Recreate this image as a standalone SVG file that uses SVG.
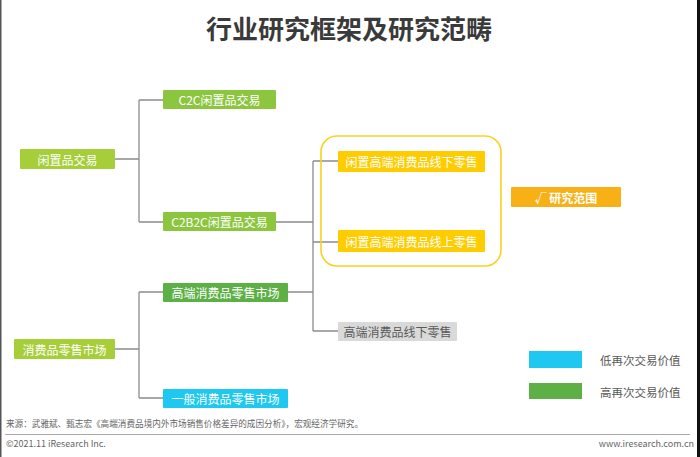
<svg xmlns="http://www.w3.org/2000/svg" width="700" height="457" viewBox="0 0 700 457">
<style>
.t{font-family:"Noto Sans CJK SC","Noto Sans",sans-serif;}
.nt{font-family:"Noto Sans CJK SC","Noto Sans",sans-serif;font-size:12px;fill:#ffffff;text-anchor:middle;dominant-baseline:central;}
.ln{stroke:#8c8c8c;stroke-width:1.3;fill:none;}
.lg{font-family:"Noto Sans CJK SC","Noto Sans",sans-serif;font-size:11.5px;fill:#595959;dominant-baseline:central;}
.ft{font-family:"Noto Sans CJK SC","Liberation Sans",sans-serif;font-size:9px;fill:#666666;dominant-baseline:central;}
</style>
<rect x="0" y="0" width="700" height="457" fill="#ffffff"/>
<rect x="0" y="0" width="1.5" height="457" fill="#555555"/>
<rect x="697" y="0" width="3" height="457" fill="#111111"/>
<text class="t" x="349" y="27" font-size="26" font-weight="bold" fill="#3a3a3a" text-anchor="middle" dominant-baseline="central">行业研究框架及研究范畴</text>

<g id="connectors">
<path class="ln" d="M115,159 H139 M139,100 V222 M139,100 H163 M139,222 H163"/>
<path class="ln" d="M276,222 H313 M313,161 V331 M313,161 H338 M313,242 H338 M313,331 H338 M288,292 H313"/>
<path class="ln" d="M115,349 H139 M139,292 V398 M139,292 H163 M139,398 H163"/>
</g>

<g id="scope-frame">
<rect x="321" y="136" width="180" height="130" rx="16" ry="16" fill="none" stroke="#f9d21d" stroke-width="1.6"/>
</g>

<g id="n-xianzhi">
<rect x="20" y="149" width="95" height="20" rx="1" fill="#a6ce39"/>
<text class="nt" x="67.5" y="159">闲置品交易</text>
</g>
<g id="n-c2c">
<rect x="163" y="90" width="113" height="19" rx="1" fill="#8cc63f"/>
<text class="nt" x="219.5" y="99.5">C2C闲置品交易</text>
</g>
<g id="n-c2b2c">
<rect x="163" y="212" width="113" height="19" rx="1" fill="#8cc63f"/>
<text class="nt" x="219.5" y="221.5">C2B2C闲置品交易</text>
</g>
<g id="n-offline">
<rect x="338" y="151" width="147" height="21" rx="1" fill="#ffcc00"/>
<text class="nt" x="411.5" y="161.5">闲置高端消费品线下零售</text>
</g>
<g id="n-online">
<rect x="338" y="230" width="147" height="22" rx="1" fill="#ffcc00"/>
<text class="nt" x="411.5" y="241">闲置高端消费品线上零售</text>
</g>
<g id="n-scope">
<rect x="511" y="187" width="110" height="20" rx="1" fill="#f7b016"/>
<text class="nt" x="566" y="197" font-weight="bold">√ 研究范围</text>
</g>
<g id="n-consumer">
<rect x="14" y="339" width="101" height="20" rx="1" fill="#a6ce39"/>
<text class="nt" x="64.5" y="349">消费品零售市场</text>
</g>
<g id="n-highend">
<rect x="163" y="283" width="125" height="19" rx="1" fill="#5cb045"/>
<text class="nt" x="225.5" y="292.5">高端消费品零售市场</text>
</g>
<g id="n-general">
<rect x="163" y="389" width="125" height="19" rx="1" fill="#1ec8f0"/>
<text class="nt" x="225.5" y="398.5">一般消费品零售市场</text>
</g>
<g id="n-highend-offline">
<rect x="338" y="322" width="119" height="19" rx="1" fill="#d9d9d9"/>
<text class="nt" x="397.5" y="331.5" fill="#595959" style="fill:#595959">高端消费品线下零售</text>
</g>

<g id="legend">
<rect x="529" y="351" width="53" height="17" fill="#1ec8f0"/>
<text class="lg" x="600" y="360">低再次交易价值</text>
<rect x="529" y="383" width="53" height="16" fill="#5cb045"/>
<text class="lg" x="600" y="392">高再次交易价值</text>
</g>

<g id="footer">
<text class="ft" x="6" y="423" textLength="357" lengthAdjust="spacingAndGlyphs">来源：武雅斌、甄志宏《高端消费品境内外市场销售价格差异的成因分析》，宏观经济学研究。</text>
<line x1="5" y1="434.5" x2="690" y2="434.5" stroke="#aaaaaa" stroke-width="1"/>
<text class="ft" x="6" y="443">©2021.11 iResearch Inc.</text>
<text class="ft" x="694" y="443" text-anchor="end">www.iresearch.com.cn</text>
</g>
</svg>
